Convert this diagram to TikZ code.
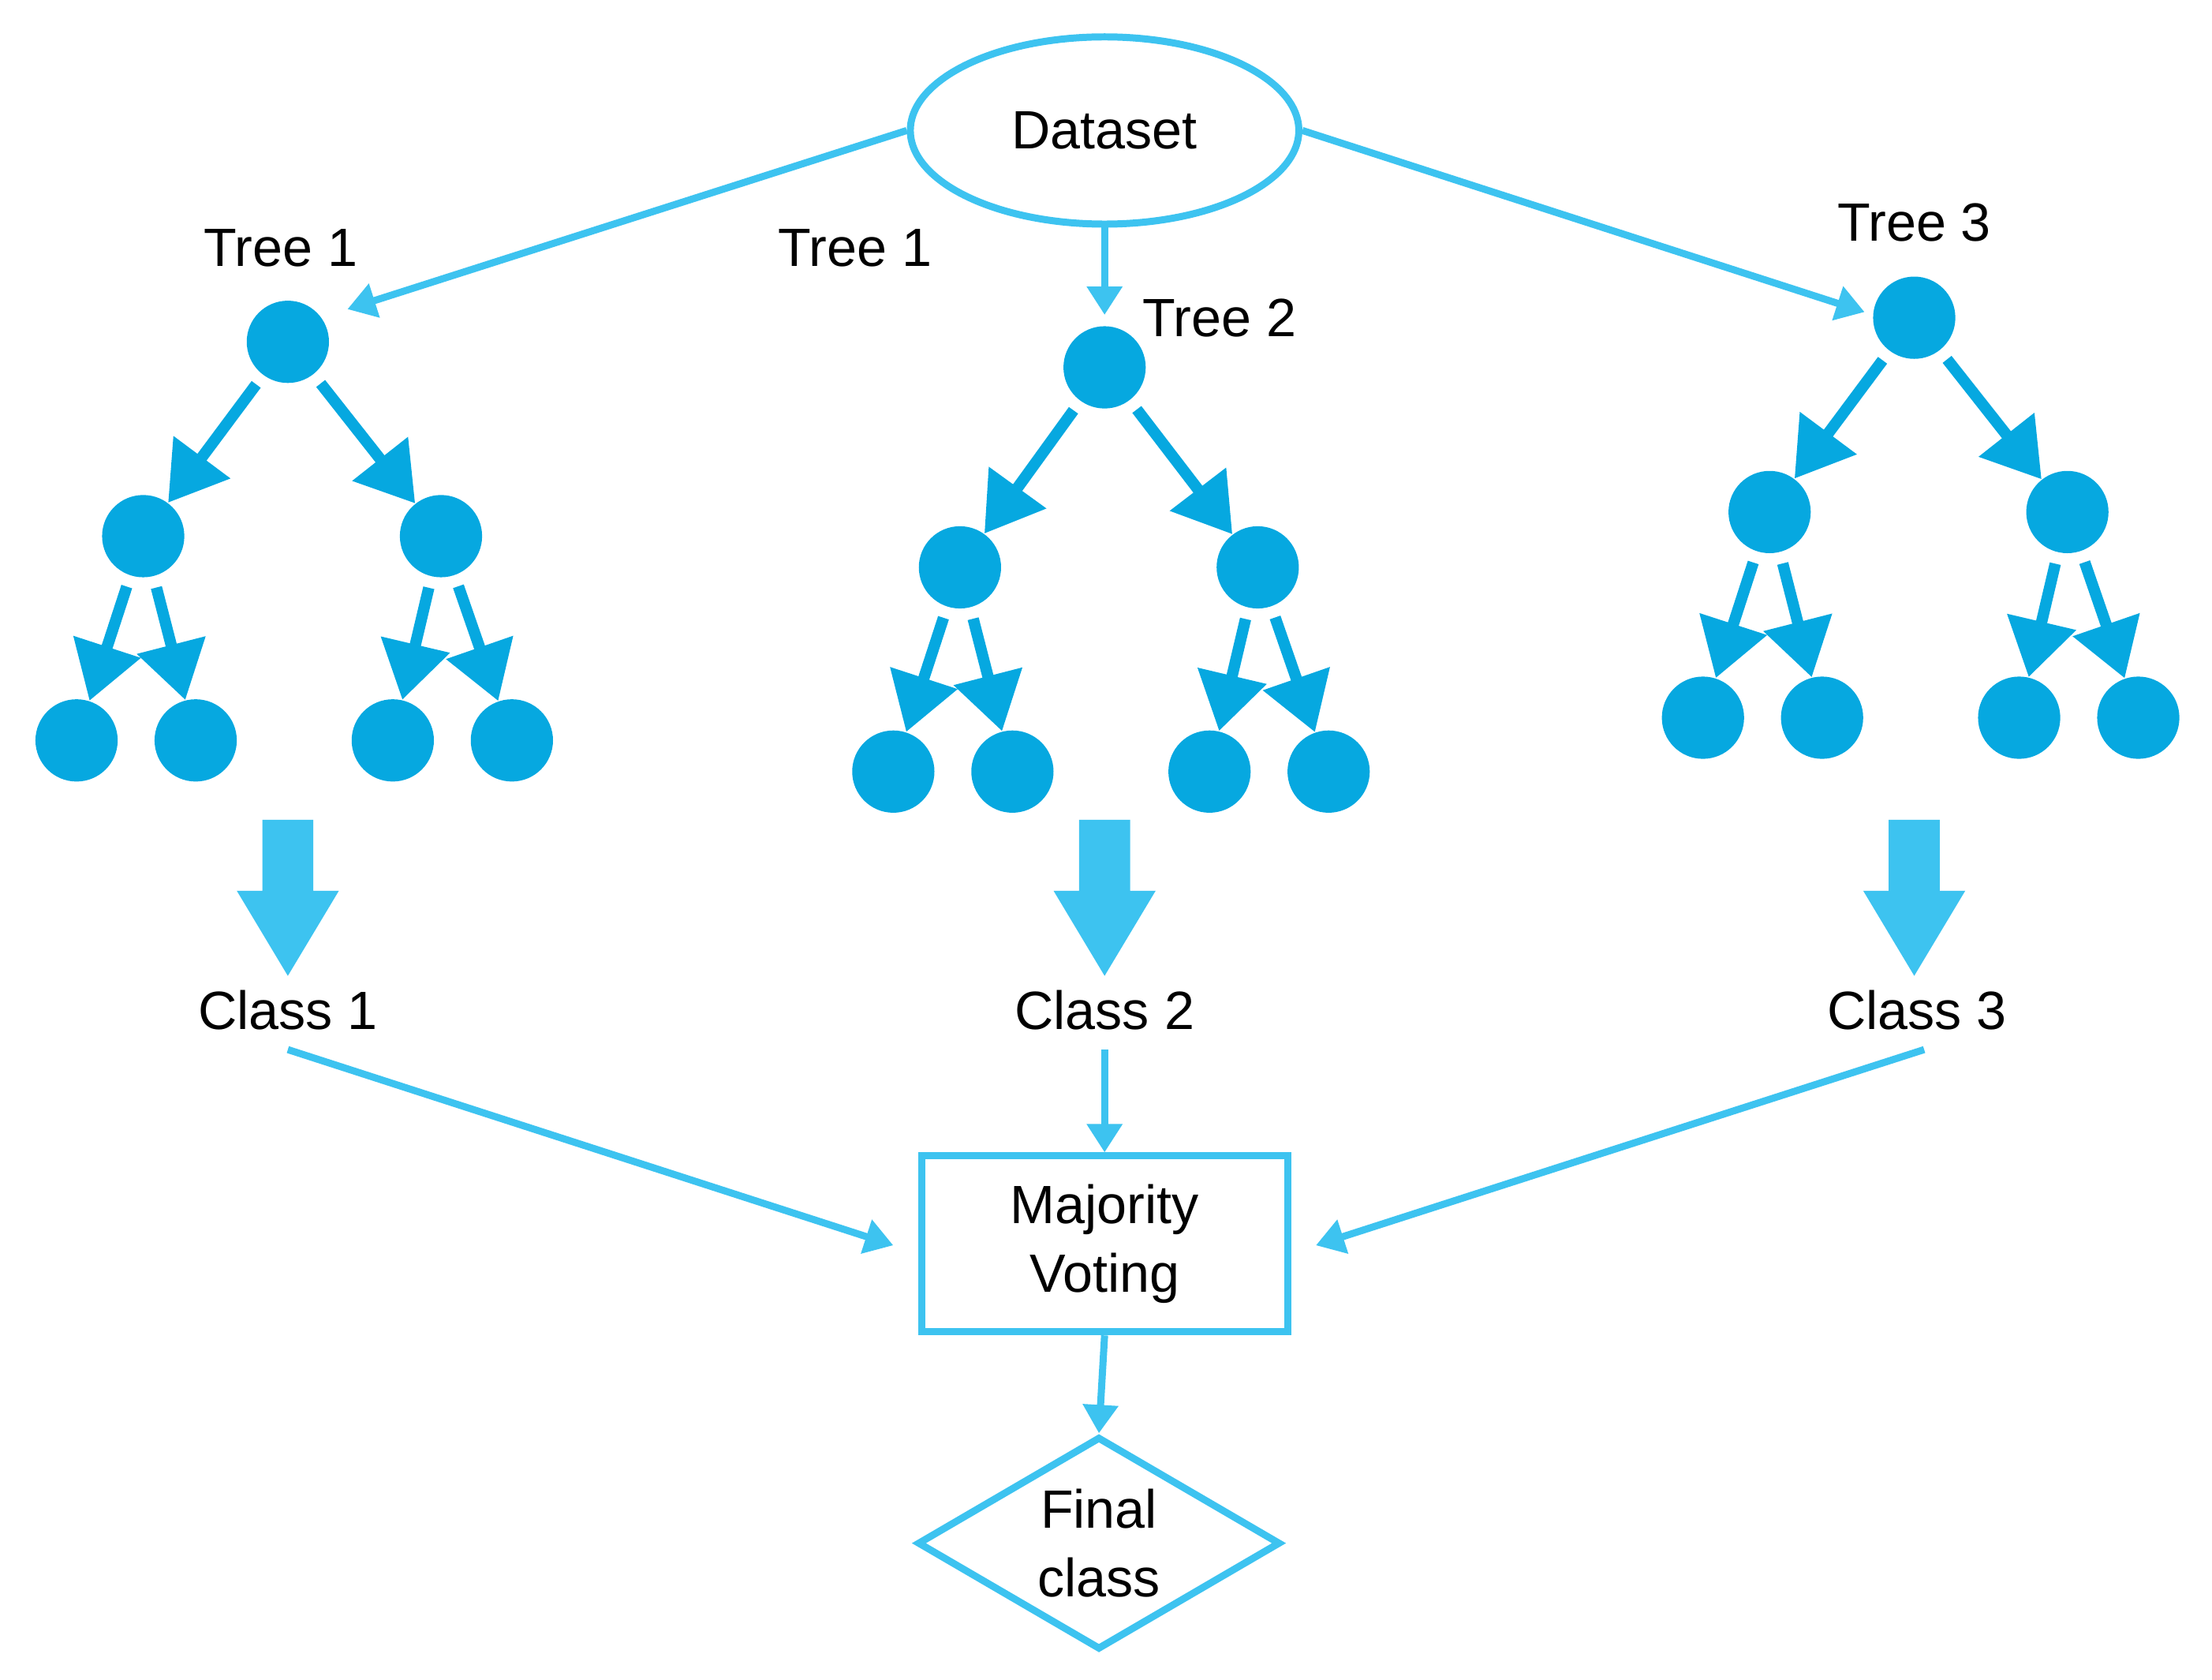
\documentclass[tikz,border=0pt]{standalone}
\usepackage{fontspec}
\setmainfont{Liberation Sans}
\usetikzlibrary{shapes.geometric,arrows.meta}
\definecolor{lb}{HTML}{3DC3F0}
\definecolor{nb}{HTML}{06A8E0}
\begin{document}
\begin{tikzpicture}[x=0.5pt,y=-0.5pt,
  dot/.style={circle,fill=nb,minimum size=29pt,inner sep=0},
  lbl/.style={font=\fontsize{19}{22}\selectfont,inner sep=0},
  thin/.style={draw=lb,line width=2.5pt,-{Triangle[length=10pt,width=12pt]}},
  tar/.style={draw=nb,line width=4pt,-{Triangle[length=20pt,width=24pt]},shorten <=4pt},
  blk/.style={fill=lb}]
\useasboundingbox (0,0) rectangle (1560,1184);
\node[ellipse,draw=lb,line width=2.5pt,minimum width=137pt,minimum height=66pt,lbl] (ds) at (779,92) {Dataset};
\node[lbl] (t1) at (198,175) {Tree 1};
\node[lbl] (t1b) at (603,175) {Tree 1};
\node[lbl] (t2) at (860,224) {Tree 2};
\node[lbl] (t3) at (1350,157) {Tree 3};
\coordinate (a1) at (245,218);
\coordinate (a2) at (779,222);
\coordinate (a3) at (1315,220);
\draw[thin] (ds.west) -- (a1);
\draw[thin] (ds.south) -- (a2);
\draw[thin] (ds.east) -- (a3);
% trees
\foreach \n/\rx/\ry/\cy/\ly in {A/203/241/378/522, B/779/259/400/544, C/1350/224/361/506}{
  \node[dot] (\n r) at (\rx,\ry) {};
  \node[dot] (\n l) at (\rx-102,\cy) {};
  \node[dot] (\n R) at (\rx+108,\cy) {};
  \node[dot] (\n 1) at (\rx-149,\ly) {};
  \node[dot] (\n 2) at (\rx-65,\ly) {};
  \node[dot] (\n 3) at (\rx+74,\ly) {};
  \node[dot] (\n 4) at (\rx+158,\ly) {};
  \draw[tar] (\n r) -- (\n l);
  \draw[tar] (\n r) -- (\n R);
  \draw[tar] (\n l) -- (\n 1);
  \draw[tar] (\n l) -- (\n 2);
  \draw[tar] (\n R) -- (\n 3);
  \draw[tar] (\n R) -- (\n 4);
}
% block arrows
\foreach \x in {203,779,1350}{
  \fill[lb] (\x-18,578) -- (\x+18,578) -- (\x+18,628) -- (\x+36,628) -- (\x,688) -- (\x-36,628) -- (\x-18,628) -- cycle;
}
\node[lbl] (c1) at (203,712) {Class 1};
\node[lbl] (c2) at (779,712) {Class 2};
\node[lbl] (c3) at (1352,712) {Class 3};
\node[draw=lb,line width=2.5pt,minimum width=129pt,minimum height=62pt,align=center,lbl,font=\fontsize{19}{24}\selectfont] (mv) at (779,877) {Majority\\ Voting};
\node[diamond,aspect=1.7,draw=lb,line width=2.5pt,minimum width=128pt,minimum height=75pt,inner sep=0,align=center,lbl,font=\fontsize{19}{24}\selectfont] (fc) at (775,1088) {Final\\class};
\coordinate (c1s) at (203,740);
\coordinate (c2s) at (779,740);
\coordinate (c3s) at (1357,740);
\draw[thin] (c1s) -- (630,878);
\draw[thin] (c2s) -- (mv.north);
\draw[thin] (c3s) -- (928,878);
\draw[thin] (mv.south) -- (fc.north);
\end{tikzpicture}
\end{document}
